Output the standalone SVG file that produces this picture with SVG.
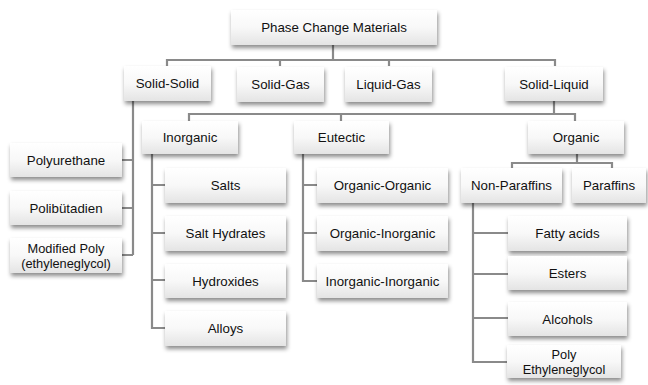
<svg xmlns="http://www.w3.org/2000/svg" width="648" height="385" viewBox="0 0 648 385">
<defs>
<linearGradient id="g" x1="0" y1="0" x2="0" y2="1">
<stop offset="0" stop-color="#ffffff"/>
<stop offset="0.5" stop-color="#f8f8f8"/>
<stop offset="1" stop-color="#e4e4e4"/>
</linearGradient>
<filter id="sh" x="-10%" y="-20%" width="130%" height="160%">
<feDropShadow dx="1" dy="3" stdDeviation="2" flood-color="#000" flood-opacity="0.45"/>
</filter>
</defs>
<style>
.b{fill:url(#g);filter:url(#sh)}
.t{font-family:"Liberation Sans",Arial,sans-serif;font-size:13.3px;fill:#111;text-anchor:middle;dominant-baseline:central}
.s{font-size:12.8px}
.c{fill:none;stroke:#8a8a8a;stroke-width:2.2}
</style>
<g id="connectors">
<path class="c" d="M333 45V60M167 66V60H555V66M280 60V66M389 60V66"/>
<path class="c" d="M554 101V114M189 121V114H575V121M341 114V121"/>
<path class="c" d="M577 154V163M512 168V163H612V168"/>
<path class="c" d="M122 160H133M122 208H133M122 255H133M133 101V255"/>
<path class="c" d="M152 154V328H165M152 185H165M152 233H165M152 280H165"/>
<path class="c" d="M303 154V281H317M303 185H317M303 233H317"/>
<path class="c" d="M473 203V362H507M473 233H508M473 274H508M473 318H508"/>
</g>
<g id="pcm"><rect class="b" x="231" y="10" width="206" height="35"/><text class="t" x="334" y="27">Phase Change Materials</text></g>
<g id="solid-solid"><rect class="b" x="124" y="66" width="87" height="35"/><text class="t" x="167.5" y="83">Solid-Solid</text></g>
<g id="solid-gas"><rect class="b" x="237" y="67" width="87" height="35"/><text class="t" x="280.5" y="84">Solid-Gas</text></g>
<g id="liquid-gas"><rect class="b" x="345" y="67" width="87" height="35"/><text class="t" x="388.5" y="84">Liquid-Gas</text></g>
<g id="solid-liquid"><rect class="b" x="505" y="67" width="98" height="34"/><text class="t" x="554" y="84">Solid-Liquid</text></g>
<g id="inorganic"><rect class="b" x="142" y="121" width="96" height="33"/><text class="t" x="190" y="137">Inorganic</text></g>
<g id="eutectic"><rect class="b" x="294" y="121" width="95" height="33"/><text class="t" x="341.5" y="137">Eutectic</text></g>
<g id="organic"><rect class="b" x="528" y="121" width="96" height="33"/><text class="t" x="576" y="137">Organic</text></g>
<g id="polyurethane"><rect class="b" x="10" y="143" width="112" height="34"/><text class="t" x="66" y="160">Polyurethane</text></g>
<g id="polibutadien"><rect class="b" x="10" y="191" width="112" height="34"/><text class="t" x="66" y="208">Polibütadien</text></g>
<g id="modified-poly"><rect class="b" x="10" y="238" width="112" height="35"/><text class="t s" x="66" y="248">Modified Poly</text><text class="t s" x="66" y="263">(ethyleneglycol)</text></g>
<g id="salts"><rect class="b" x="165" y="168" width="121" height="35"/><text class="t" x="225.5" y="185">Salts</text></g>
<g id="salt-hydrates"><rect class="b" x="165" y="216" width="121" height="35"/><text class="t" x="225.5" y="233">Salt Hydrates</text></g>
<g id="hydroxides"><rect class="b" x="165" y="264" width="121" height="34"/><text class="t" x="225.5" y="281">Hydroxides</text></g>
<g id="alloys"><rect class="b" x="165" y="311" width="121" height="35"/><text class="t" x="225.5" y="328">Alloys</text></g>
<g id="organic-organic"><rect class="b" x="317" y="168" width="131" height="35"/><text class="t" x="382.5" y="185">Organic-Organic</text></g>
<g id="organic-inorganic"><rect class="b" x="317" y="216" width="131" height="35"/><text class="t" x="382.5" y="233">Organic-Inorganic</text></g>
<g id="inorganic-inorganic"><rect class="b" x="317" y="264" width="131" height="34"/><text class="t" x="382.5" y="281">Inorganic-Inorganic</text></g>
<g id="non-paraffins"><rect class="b" x="461" y="168" width="101" height="35"/><text class="t" x="511.5" y="185">Non-Paraffins</text></g>
<g id="paraffins"><rect class="b" x="572" y="168" width="74" height="35"/><text class="t" x="609" y="185">Paraffins</text></g>
<g id="fatty-acids"><rect class="b" x="508" y="216" width="119" height="35"/><text class="t" x="567.5" y="233">Fatty acids</text></g>
<g id="esters"><rect class="b" x="508" y="256" width="119" height="34"/><text class="t" x="567.5" y="273">Esters</text></g>
<g id="alcohols"><rect class="b" x="508" y="302" width="119" height="34"/><text class="t" x="567.5" y="319">Alcohols</text></g>
<g id="poly-eg"><rect class="b" x="507" y="345" width="114" height="33"/><text class="t s" x="564" y="354">Poly</text><text class="t s" x="564" y="369">Ethyleneglycol</text></g>
</svg>
